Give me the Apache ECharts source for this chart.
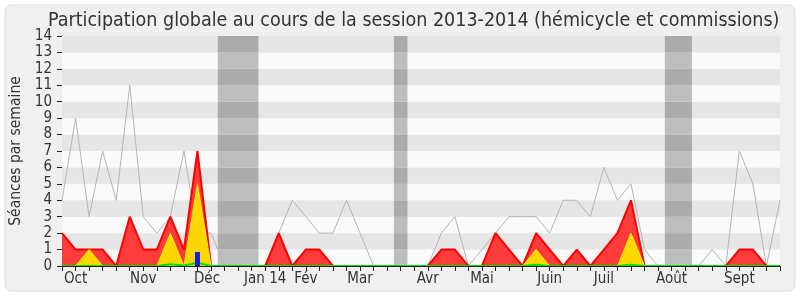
<!DOCTYPE html>
<html>
<head>
<meta charset="utf-8">
<script src="https://cdn.jsdelivr.net/npm/echarts@6/dist/echarts.min.js"></script>
<style>html,body{margin:0;padding:0;background:#fff;}#c{width:800px;height:300px;}</style>
</head>
<body>
<div id="c"></div>
<script>
// ---- data (one value per week, 54 weeks) ----
const totalSessions = [4,9,3,7,4,11,3,2,3,7,2,2,0,0,0,0,2,4,3,2,2,4,2,0,0,0,0,0,2,3,0,1,2,3,3,3,2,4,4,3,6,4,5,1,0,0,0,0,1,0,7,5,0,4];
const presences     = [2,1,1,1,0,3,1,1,3,1,7,0,0,0,0,0,2,0,1,1,0,0,0,0,0,0,0,0,1,1,0,0,2,1,0,2,1,0,1,0,1,2,4,0,0,0,0,0,0,0,1,1,0,0];
const participations= [0,0,1,0,0,0,0,0,2,0,5,0,0,0,0,0,0,0,0,0,0,0,0,0,0,0,0,0,0,0,0,0,0,0,0,1,0,0,0,0,0,0,2,0,0,0,0,0,0,0,0,0,0,0];
const mots          = [0,0,0,0,0,0,0,0,0.1,0.03,0.2,0,0,0,0,0,0,0,0,0,0,0,0,0,0,0,0,0,0,0,0,0,0,0,0,0.08,0,0,0,0,0,0,0.08,0,0,0,0,0,0,0,0,0,0,0];
const questions     = [0,0,0,0,0,0,0,0,0,0,0.85,0,0,0,0,0,0,0,0,0,0,0,0,0,0,0,0,0,0,0,0,0,0,0,0,0,0,0,0,0,0,0,0,0,0,0,0,0,0,0,0,0,0,0];
const vacations     = [[12,14],[25,25],[45,46]];
const monthLabels   = {1:'Oct',6:'Nov',11:'Déc',15:'Jan 14',18:'Fév',22:'Mar',27:'Avr',31:'Mai',36:'Juin',40:'Juil',45:'Août',50:'Sept'};
const yMax = 14;

const FONT = 'DejaVu Sans Condensed, DejaVu Sans, sans-serif';
const pairs = arr => arr.map((v,i)=>[i,v]);
const nWeeks = totalSessions.length - 1;

// horizontal stripes: [0,1] light, [1,2] darker, ...
const stripeAreas = [];
for(let k=0;k<yMax;k++){
  stripeAreas.push([{xAxis:0,yAxis:k,itemStyle:{color:k%2===0?'#fafafa':'#e6e6e6'}},{xAxis:nWeeks,yAxis:k+1}]);
}
// vacation bands (split per stripe so the stripes show through)
const bandAreas = [];
vacations.forEach(([a,b])=>{
  for(let k=0;k<yMax;k++){
    bandAreas.push([{xAxis:a-0.5,yAxis:k,itemStyle:{color:k%2===0?'#bdbdbd':'#ababab'}},{xAxis:b+0.5,yAxis:k+1}]);
  }
});

const chart = echarts.init(document.getElementById('c'),null,{renderer:'canvas'});
chart.setOption({
  backgroundColor:'#ffffff',
  animation:false,
  graphic:[{type:'rect',z:-10,silent:true,shape:{x:5,y:5,width:790,height:286,r:6},style:{fill:'#f0f0f0',stroke:'#dedede',lineWidth:1}}],
  title:{text:'Participation globale au cours de la session 2013-2014 (hémicycle et commissions)',left:43,top:6,
    textStyle:{fontFamily:FONT,fontSize:19.5,fontWeight:'normal',color:'#333'}},
  grid:{left:62,right:20,top:36,bottom:34,outerBoundsMode:'none',containLabel:false},
  xAxis:[{
    type:'value',min:0,max:nWeeks,interval:1,position:'bottom',z:5,
    axisLine:{show:true,lineStyle:{color:'#222',width:1}},
    axisTick:{show:true,length:5,lineStyle:{color:'#222'}},
    splitLine:{show:false},
    axisLabel:{show:true,margin:6,fontFamily:FONT,fontSize:15,color:'#333',showMinLabel:true,showMaxLabel:true,
      formatter:v=>{const t=monthLabels[v]; if(!t) return ''; return v===11?'{d|'+t+'}':t;},
      rich:{d:{fontFamily:FONT,fontSize:15,color:'#333',padding:[0,8,0,0]}}}
  },{
    type:'value',min:0,max:nWeeks,interval:1,position:'top',
    axisLine:{show:false},
    axisTick:{show:true,inside:true,length:2,lineStyle:{color:'#333'}},
    axisLabel:{show:false},splitLine:{show:false}
  }],
  yAxis:[{
    type:'value',min:0,max:yMax,interval:1,
    name:'Séances par semaine',nameLocation:'middle',nameGap:38,nameRotate:90,nameMoveOverlap:false,
    nameTextStyle:{fontFamily:FONT,fontSize:15.5,color:'#333'},
    axisLine:{show:true,lineStyle:{color:'#222'}},
    axisTick:{show:true,length:5,lineStyle:{color:'#222'}},
    axisLabel:{fontFamily:FONT,fontSize:15,color:'#333',margin:10},
    splitLine:{show:false},
    splitArea:{show:false}
  },{
    type:'value',min:0,max:yMax,position:'right',
    axisLine:{show:true,lineStyle:{color:'#c8c8c8'}},
    axisTick:{show:false},axisLabel:{show:false},splitLine:{show:false}
  }],
  series:[
    {type:'line',data:[],z:0,markArea:{silent:true,data:stripeAreas}},
    {type:'line',data:[],z:1,markArea:{silent:true,data:bandAreas}},
    {name:'total',type:'line',data:pairs(totalSessions),symbol:'none',z:2,
      lineStyle:{color:'#b4b4b4',width:1}},
    {name:'presences',type:'line',data:pairs(presences),symbol:'none',z:3,
      lineStyle:{color:'#ff0000',width:2},areaStyle:{color:'#ff3b3b',opacity:1}},
    {name:'participations',type:'line',data:pairs(participations),symbol:'none',z:4,
      lineStyle:{color:'#ffee00',width:1},areaStyle:{color:'#ffd700',opacity:1}},
    {name:'mots',type:'line',data:pairs(mots),symbol:'none',z:4,
      lineStyle:{color:'#00e000',width:2}},
    {name:'questions',type:'bar',data:pairs(questions),barWidth:5,z:5,
      itemStyle:{color:'#1c1cd8'}}
  ]
});
</script>
</body>
</html>
